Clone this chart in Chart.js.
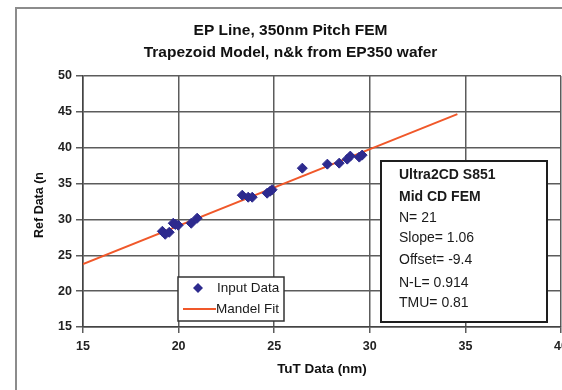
<!DOCTYPE html>
<html>
<head>
<meta charset="utf-8">
<script src="https://cdn.jsdelivr.net/npm/chart.js@4"></script>
<style>
  html, body { margin: 0; padding: 0; background: #fff; overflow: hidden; }
</style>
</head>
<body>
<canvas id="myChart" width="582" height="390"></canvas>
<script>
const tutData = [19.15, 19.30, 19.51, 19.72, 19.83, 19.98, 20.66, 20.97, 23.33, 23.64, 23.85,
  24.63, 24.79, 24.89, 26.47, 27.78, 28.40, 28.82, 28.98, 29.45, 29.60];
const refData = [28.35, 27.93, 28.21, 29.47, 29.30, 29.19, 29.47, 30.17, 33.38, 33.10, 33.10,
  33.66, 33.94, 34.15, 37.15, 37.71, 37.85, 38.41, 38.83, 38.69, 38.97];

const fitX = [15, 34.58];
const fitY = [23.76, 44.69];

const titleLines = ['EP Line, 350nm Pitch FEM', 'Trapezoid Model, n&k from EP350 wafer'];
const statLines = ['Ultra2CD S851', 'Mid CD FEM', 'N= 21', 'Slope= 1.06', 'Offset= -9.4', 'N-L= 0.914', 'TMU= 0.81'];

const font = 'Liberation Sans, Arial, sans-serif';

const frameBoxes = {
  id: 'frameBoxes',
  beforeDraw(chart) {
    const ctx = chart.ctx;
    ctx.save();
    ctx.fillStyle = '#fff';
    ctx.fillRect(0, 0, chart.width, chart.height);
    ctx.strokeStyle = '#8c8c8c';
    ctx.lineWidth = 2;
    ctx.strokeRect(16, 8, 552, 400);
    ctx.restore();
  },
  afterDraw(chart) {
    const ctx = chart.ctx;
    ctx.save();

    // stats box
    ctx.fillStyle = '#fff';
    ctx.fillRect(381, 161, 166, 161);
    ctx.strokeStyle = '#1e1e1e';
    ctx.lineWidth = 2;
    ctx.strokeRect(381, 161, 166, 161);
    ctx.fillStyle = '#1a1a1a';
    ctx.textBaseline = 'middle';
    ctx.textAlign = 'left';
    const ys = [175, 197, 218, 238, 260, 283, 303];
    statLines.forEach(function (t, i) {
      ctx.font = (i < 2 ? 'bold ' : '') + '14px ' + font;
      ctx.fillText(t, 399, ys[i]);
    });

    // legend box
    const ds = chart.data.datasets;
    ctx.fillStyle = '#fff';
    ctx.fillRect(178, 277, 106, 44);
    ctx.strokeStyle = '#333';
    ctx.lineWidth = 1.5;
    ctx.strokeRect(178, 277, 106, 44);

    ctx.fillStyle = ds[0].backgroundColor;
    ctx.beginPath();
    ctx.moveTo(198, 283);
    ctx.lineTo(203, 288);
    ctx.lineTo(198, 293);
    ctx.lineTo(193, 288);
    ctx.closePath();
    ctx.fill();

    ctx.strokeStyle = ds[1].borderColor;
    ctx.lineWidth = 2;
    ctx.beginPath();
    ctx.moveTo(183, 309);
    ctx.lineTo(216, 309);
    ctx.stroke();

    ctx.fillStyle = '#1a1a1a';
    ctx.font = '13.5px ' + font;
    ctx.fillText(ds[0].label, 217, 288);
    ctx.fillText(ds[1].label, 216, 309);
    ctx.restore();
  }
};

const config = {
  type: 'scatter',
  data: {
    datasets: [{
      label: 'Input Data',
      data: tutData.map((x, i) => ({ x: x, y: refData[i] })),
      backgroundColor: '#2d2a8e',
      borderColor: '#2d2a8e',
      pointStyle: 'rectRot',
      pointRadius: 5,
      pointHoverRadius: 5
    }, {
      type: 'line',
      label: 'Mandel Fit',
      data: fitX.map((x, i) => ({ x: x, y: fitY[i] })),
      borderColor: '#f0582a',
      borderWidth: 2,
      pointRadius: 0,
      fill: false
    }]
  },
  options: {
    responsive: false,
    animation: false,
    layout: { padding: { left: 20, right: 21, top: 8, bottom: 0 } },
    plugins: {
      legend: { display: false },
      tooltip: { enabled: false },
      title: {
        display: true,
        text: titleLines,
        color: '#111',
        font: { family: font, size: 15.5, weight: 'bold', lineHeight: 1.42 },
        padding: { top: 12, bottom: 12 }
      }
    },
    scales: {
      x: {
        type: 'linear',
        min: 15,
        max: 40,
        ticks: { stepSize: 5, color: '#222', padding: 6, font: { family: font, size: 12.5, weight: 'bold' } },
        grid: { color: '#5c5c5c', lineWidth: 1.5, tickLength: 6 },
        border: { color: '#444', width: 1.5 },
        title: {
          display: true,
          text: 'TuT Data (nm)',
          color: '#111',
          font: { family: font, size: 13.5, weight: 'bold' },
          padding: { top: 0, bottom: 13 }
        },
        afterFit(scale) { scale.height = 63; }
      },
      y: {
        min: 15,
        max: 50,
        ticks: { stepSize: 5, color: '#222', padding: 4, font: { family: font, size: 12.5, weight: 'bold' } },
        grid: { color: '#5c5c5c', lineWidth: 1.5, tickLength: 7 },
        border: { color: '#444', width: 1.5 },
        title: {
          display: true,
          text: 'Ref Data (n  ',
          color: '#111',
          font: { family: font, size: 12.5, weight: 'bold' },
          padding: { top: 12, bottom: 0 }
        },
        afterFit(scale) { scale.width = 63; }
      }
    }
  },
  plugins: [frameBoxes]
};

const myChart = new Chart(
  document.getElementById('myChart'),
  config
);
</script>
</body>
</html>
